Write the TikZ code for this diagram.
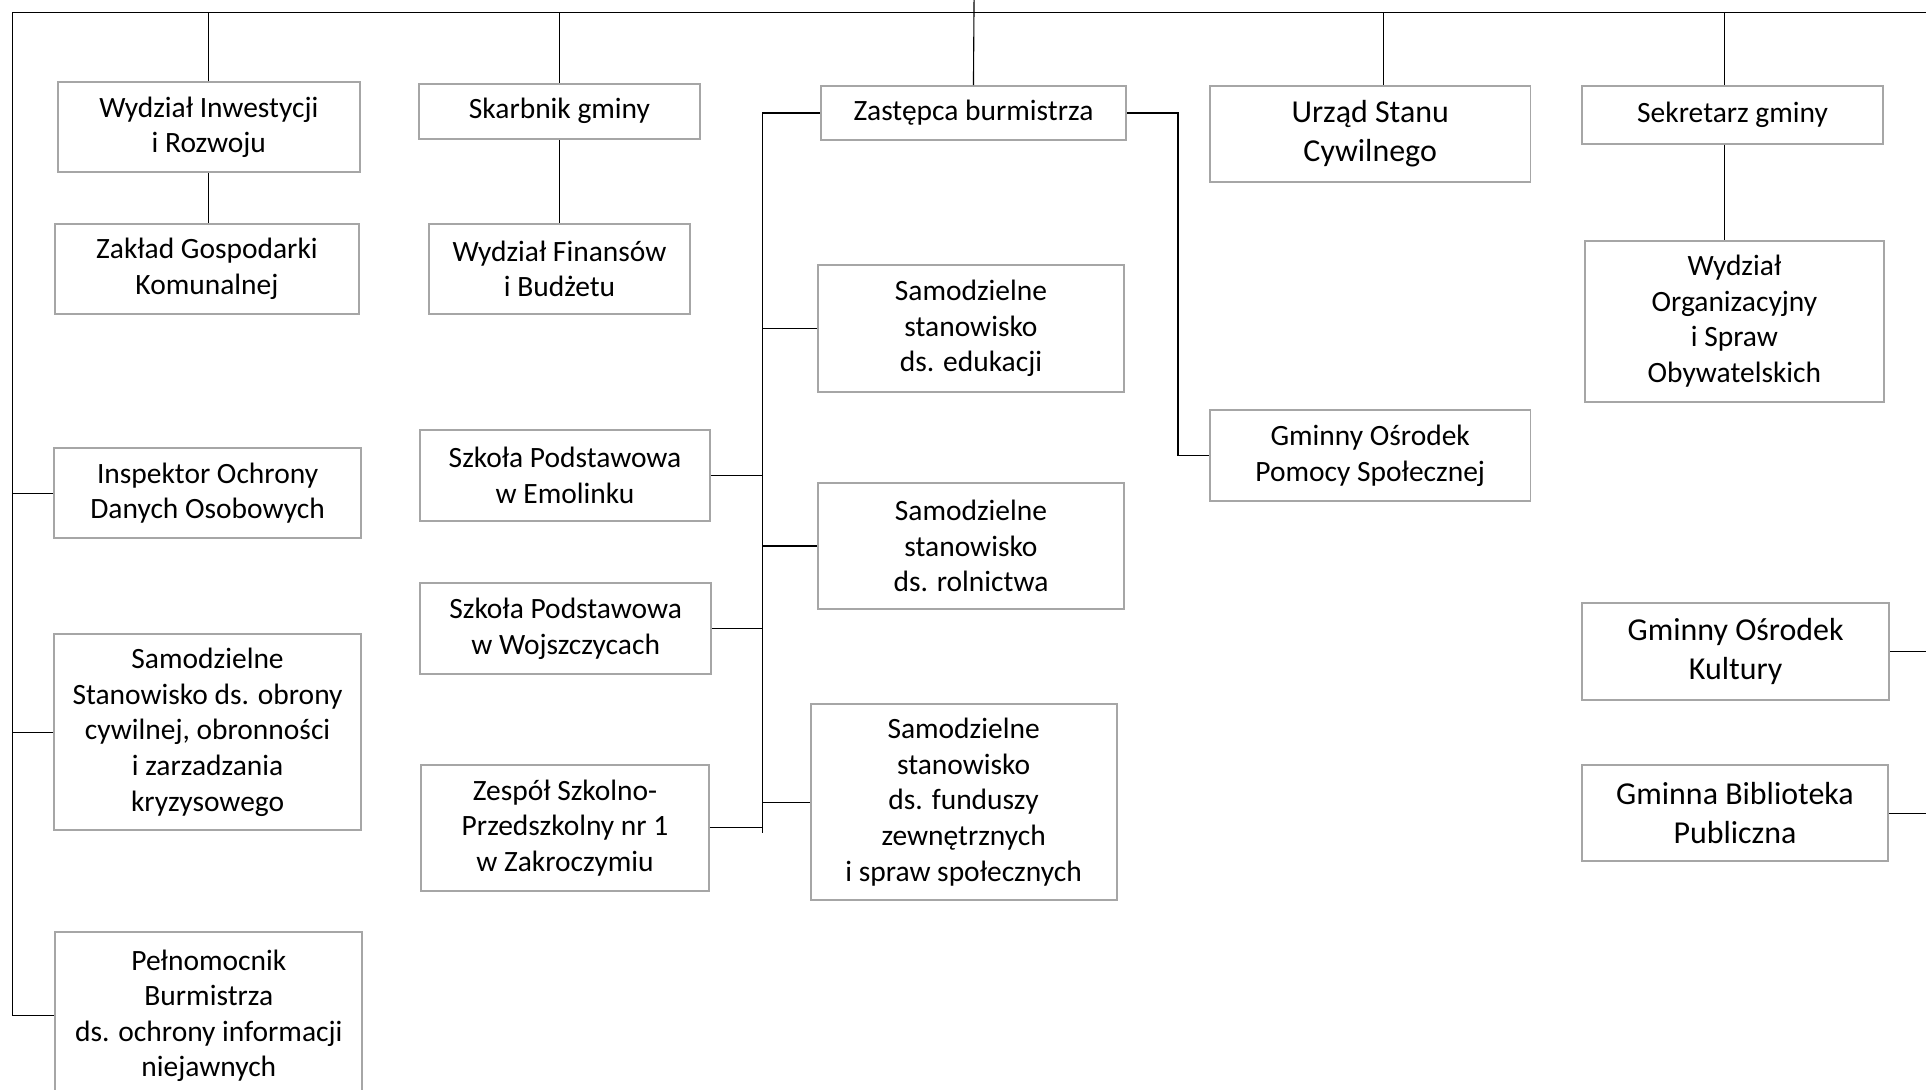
\documentclass[tikz,border=0pt]{standalone}
\usepackage{fontspec}
\setmainfont{Carlito}
\begin{document}
\begin{tikzpicture}[x=1pt,y=1pt,
  box/.style={draw=black!35, line width=1.6pt, fill=white, align=center, inner sep=0pt, font=\fontsize{24}{29}\selectfont},
  big/.style={font=\fontsize{26}{31.5}\selectfont},
  conn/.style={draw=black, line width=0.9pt}]
\clip (0,0) rectangle (1568,-887);
\fill[white] (0,0) rectangle (1568,-887);
% column 1
\node[box, minimum width=246pt, minimum height=73pt] (wir) at (170,-103.5) {Wydział Inwestycji\\i Rozwoju};
\node[box, minimum width=247pt, minimum height=74pt] (zgk) at (168.5,-219) {Zakład Gospodarki\\Komunalnej};
\node[box, minimum width=250pt, minimum height=73pt] (iodo) at (169,-401.5) {Inspektor Ochrony\\Danych Osobowych};
\node[box, minimum width=250pt, minimum height=160pt] (obr) at (169,-596) {Samodzielne\\Stanowisko ds. obrony\\cywilnej, obronności\\i zarzadzania\\kryzysowego};
\node[box, minimum width=250pt, minimum height=136pt] (peln) at (170,-827) {Pełnomocnik\\Burmistrza\\ds. ochrony informacji\\niejawnych};
% column 2
\node[box, minimum width=229pt, minimum height=45pt] (skarb) at (455.5,-90.5) {Skarbnik gminy};
\node[box, minimum width=213pt, minimum height=74pt] (wfb) at (455.5,-219) {Wydział Finansów\\i Budżetu};
\node[box, minimum width=236pt, minimum height=74pt] (spe) at (460,-387) {Szkoła Podstawowa\\w Emolinku};
\node[box, minimum width=237pt, minimum height=74pt] (spw) at (460.5,-512) {Szkoła Podstawowa\\w Wojszczycach};
\node[box, minimum width=234pt, minimum height=102pt] (zsp) at (460,-674) {Zespół Szkolno-\\Przedszkolny nr 1\\w Zakroczymiu};
% column 3
\node[box, minimum width=249pt, minimum height=44pt] (zast) at (792.5,-92) {Zastępca burmistrza};
\node[box, minimum width=249pt, minimum height=103pt] (sedu) at (790.5,-267.5) {Samodzielne\\stanowisko\\ds. edukacji};
\node[box, minimum width=249pt, minimum height=103pt] (srol) at (790.5,-444.5) {Samodzielne\\stanowisko\\ds. rolnictwa};
\node[box, minimum width=249pt, minimum height=160pt] (sfun) at (784.5,-653) {Samodzielne\\stanowisko\\ds. funduszy\\zewnętrznych\\i spraw społecznych};
% column 4
\node[box, big, minimum width=261pt, minimum height=78pt] (usc) at (1115.5,-109) {Urząd Stanu\\Cywilnego};
\node[box, minimum width=261pt, minimum height=74pt] (gops) at (1115.5,-371) {Gminny Ośrodek\\Pomocy Społecznej};
% column 5
\node[box, minimum width=245pt, minimum height=47pt] (sekr) at (1410.5,-93.5) {Sekretarz gminy};
\node[box, minimum width=244pt, minimum height=131pt] (wos) at (1412,-261.5) {Wydział\\Organizacyjny\\i Spraw\\Obywatelskich};
\node[box, big, minimum width=250pt, minimum height=79pt] (gok) at (1413,-530.5) {Gminny Ośrodek\\Kultury};
\node[box, big, minimum width=249pt, minimum height=78pt] (gbp) at (1412.5,-662) {Gminna Biblioteka\\Publiczna};
% connectors
\coordinate (tl) at (10,-10);
\coordinate (tr) at (1568,-10);
\coordinate (burm) at (793,0);
\coordinate (lbus) at (621,-678);
\coordinate (rbus) at (959,-92);
\coordinate (uscx) at (1126,-10);
\coordinate (sekx) at (1404,-10);
\draw[conn] (tl) -- (tr);
\draw[conn] (tl) -- (tl |- peln.west) -- (peln.west);
\draw[conn] (iodo.west) -- (iodo.west -| tl);
\draw[conn] (obr.west) -- (obr.west -| tl);
\draw[conn] (wir.north) -- (wir.north |- tl);
\draw[conn] (wir.south) -- (wir.south |- zgk.north);
\draw[conn] (skarb.north) -- (skarb.north |- tl);
\draw[conn] (skarb.south) -- (skarb.south |- wfb.north);
\draw[conn] (burm) -- (zast.north);
\draw[conn] (zast.west) -- (zast.west -| lbus) -- (lbus);
\draw[conn] (sedu.west) -- (sedu.west -| lbus);
\draw[conn] (srol.west) -- (srol.west -| lbus);
\draw[conn] (sfun.west) -- (sfun.west -| lbus);
\draw[conn] (spe.east) -- (spe.east -| lbus);
\draw[conn] (spw.east) -- (spw.east -| lbus);
\draw[conn] (zsp.east) -- (zsp.east -| lbus);
\draw[conn] (zast.east) -- (rbus) -- (rbus |- gops.west) -- (gops.west);
\draw[conn] (uscx) -- (uscx |- usc.north);
\draw[conn] (sekx) -- (sekx |- sekr.north);
\draw[conn] (sekx |- sekr.south) -- (sekx |- wos.north);
\draw[conn] (gok.east) -- (gok.east -| tr);
\draw[conn] (gbp.east) -- (gbp.east -| tr);
\end{tikzpicture}
\end{document}
